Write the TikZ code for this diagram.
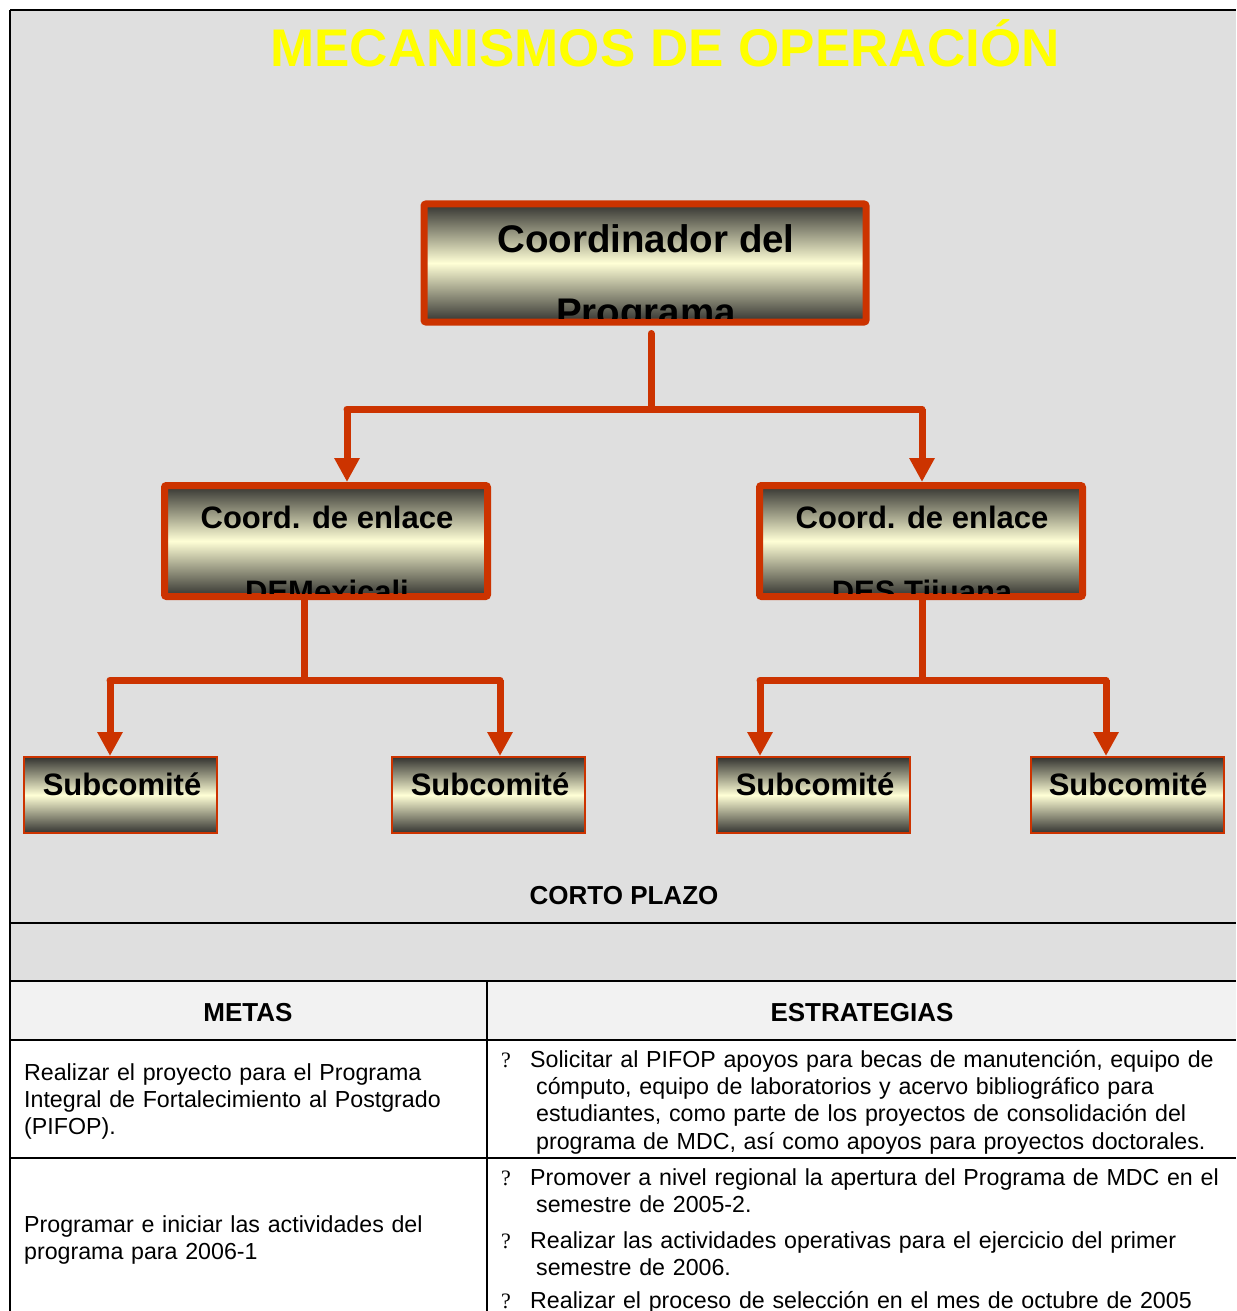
\documentclass[tikz,border=0pt]{standalone}
\usepackage{fontspec}
\setmainfont{Liberation Sans}
\newfontfamily\qfont{Liberation Serif}
\usetikzlibrary{arrows.meta}
\definecolor{bgrey}{HTML}{DFDFDF}
\definecolor{hgrey}{HTML}{F2F2F2}
\definecolor{lred}{HTML}{CC3300}
\definecolor{dk}{HTML}{333330}
\definecolor{lt}{HTML}{FFFFD6}
\definecolor{ttl}{HTML}{FFFF00}
\tikzset{
  bigbox/.style={draw=lred, line width=7bp, rounded corners=2bp, top color=dk, bottom color=dk, middle color=lt, inner sep=0pt},
  subbox/.style={draw=lred, line width=2bp, top color=dk, bottom color=dk, middle color=lt, inner sep=0pt, minimum width=193bp, minimum height=76bp},
  conn/.style={draw=lred, line width=7bp, line cap=round},
  arr/.style={draw=lred, line width=7bp, -{Triangle[width=24bp,length=24bp]}},
  rule/.style={draw=black, line width=2bp},
  toptext/.style={inner sep=0pt, anchor=base, font=\bfseries\fontsize{38.5bp}{44bp}\selectfont},
  midtext/.style={inner sep=0pt, anchor=base, font=\bfseries\fontsize{31bp}{36bp}\selectfont},
  subtext/.style={inner sep=0pt, anchor=base, font=\bfseries\fontsize{31bp}{36bp}\selectfont},
  cell/.style={inner sep=0pt, anchor=base west, align=left, text width=#1, font=\fontsize{23.2bp}{27.4bp}\selectfont},
  head/.style={inner sep=0pt, anchor=base, font=\bfseries\fontsize{26bp}{30bp}\selectfont},
  qm/.style={inner sep=0pt, anchor=base west, font=\qfont\fontsize{22bp}{26bp}\selectfont},
}
\begin{document}
\begin{tikzpicture}[x=1bp,y=-1bp]
\useasboundingbox (0,0) rectangle (1236,1311);
\fill[white] (0,0) rectangle (1236,1311);
% backgrounds
\fill[bgrey] (10,10) rectangle (1236,981);
\fill[hgrey] (10,981) rectangle (1236,1040);
% rules
\draw[rule] (10,10) -- (1236,10);
\draw[rule] (10,10) -- (10,1311);
\draw[rule] (10,923) -- (1236,923);
\draw[rule] (10,981) -- (1236,981);
\draw[rule] (10,1040) -- (1236,1040);
\draw[rule] (10,1158) -- (1236,1158);
\draw[rule] (487,981) -- (487,1311);

% title
\node[inner sep=0pt, anchor=base, text=ttl, font=\bfseries\fontsize{53bp}{60bp}\selectfont] (title) at (665,67) {MECANISMOS DE OPERACIÓN};

% top box
\node[bigbox, minimum width=442bp, minimum height=118bp] (top) at (645,263) {};
\begin{scope}
\clip ([shift={(7bp,7bp)}]top.south west) rectangle ([shift={(-7bp,-7bp)}]top.north east);
\node[toptext] (toptxt) at (646,253) {Coordinador del};
\node[toptext] (toptxtb) at (646,326) {Programa};
\end{scope}

% middle boxes
\node[bigbox, minimum width=323bp, minimum height=111bp] (cl) at (326,541) {};
\begin{scope}
\clip ([shift={(7bp,7bp)}]cl.south west) rectangle ([shift={(-7bp,-7bp)}]cl.north east);
\node[midtext] (cltxt) at (327,528) {Coord. de enlace};
\node[midtext] (cltxtb) at (327,602) {DEMexicali};
\end{scope}
\node[bigbox, minimum width=323bp, minimum height=111bp] (cr) at (921,541) {};
\begin{scope}
\clip ([shift={(7bp,7bp)}]cr.south west) rectangle ([shift={(-7bp,-7bp)}]cr.north east);
\node[midtext] (crtxt) at (922,528) {Coord. de enlace};
\node[midtext] (crtxtb) at (922,602) {DES Tijuana};
\end{scope}

% subcomite boxes
\node[subbox] (sa) at (120.5,795) {};
\node[subbox] (sb) at (488.5,795) {};
\node[subbox] (sc) at (813.5,795) {};
\node[subbox] (sd) at (1127.5,795) {};
\node[subtext] (sat) at (122,795) {Subcomité};
\node[subtext] (sbt) at (490,795) {Subcomité};
\node[subtext] (sct) at (815,795) {Subcomité};
\node[subtext] (sdt) at (1128,795) {Subcomité};

% connectors level 1
\coordinate (s1) at (651,409);
\coordinate (b1l) at (347,409);
\coordinate (b1r) at (922,409);
\draw[conn] ([yshift=-8bp]s1 |- top.south) -- (s1);
\draw[conn] (b1l) -- (b1r);
\draw[arr] (b1l) -- (b1l |- cl.north);
\draw[arr] (b1r) -- (b1r |- cr.north);

% connectors level 2 left
\coordinate (s2) at (304,680);
\coordinate (b2l) at (110,680);
\coordinate (b2r) at (500,680);
\draw[conn] (s2 |- cl.south) -- (s2);
\draw[conn] (b2l) -- (b2r);
\draw[arr] (b2l) -- (b2l |- sa.north);
\draw[arr] (b2r) -- (b2r |- sb.north);

% connectors level 2 right
\coordinate (s3) at (922,680);
\coordinate (b3l) at (760,680);
\coordinate (b3r) at (1106,680);
\draw[conn] (s3 |- cr.south) -- (s3);
\draw[conn] (b3l) -- (b3r);
\draw[arr] (b3l) -- (b3l |- sc.north);
\draw[arr] (b3r) -- (b3r |- sd.north);

% lower texts
\node[head] (corto) at (624,904) {CORTO PLAZO};
\node[head] (metas) at (248,1021) {METAS};
\node[head] (estr) at (862,1021) {ESTRATEGIAS};

\node[cell=455bp] (m1) at (24,1080) {Realizar el proyecto para el Programa\\Integral de Fortalecimiento al Postgrado\\(PIFOP).};
\node[cell=455bp] (m2) at (24,1232) {Programar e iniciar las actividades del\\programa para 2006-1};

\node[qm] (q1) at (501,1067) {?};
\node[cell=700bp] (e1) at (530,1067) {Solicitar al PIFOP apoyos para becas de manutención, equipo de\\\hspace*{6bp}cómputo, equipo de laboratorios y acervo bibliográfico para\\\hspace*{6bp}estudiantes, como parte de los proyectos de consolidación del\\\hspace*{6bp}programa de MDC, así como apoyos para proyectos doctorales.};

\node[qm] (q2) at (501,1185) {?};
\node[cell=700bp] (e2) at (530,1185) {Promover a nivel regional la apertura del Programa de MDC en el\\\hspace*{6bp}semestre de 2005-2.};
\node[qm] (q3) at (501,1248) {?};
\node[cell=700bp] (e3) at (530,1248) {Realizar las actividades operativas para el ejercicio del primer\\\hspace*{6bp}semestre de 2006.};
\node[qm] (q4) at (501,1308) {?};
\node[cell=700bp] (e4) at (530,1308) {Realizar el proceso de selección en el mes de octubre de 2005};
\end{tikzpicture}
\end{document}
